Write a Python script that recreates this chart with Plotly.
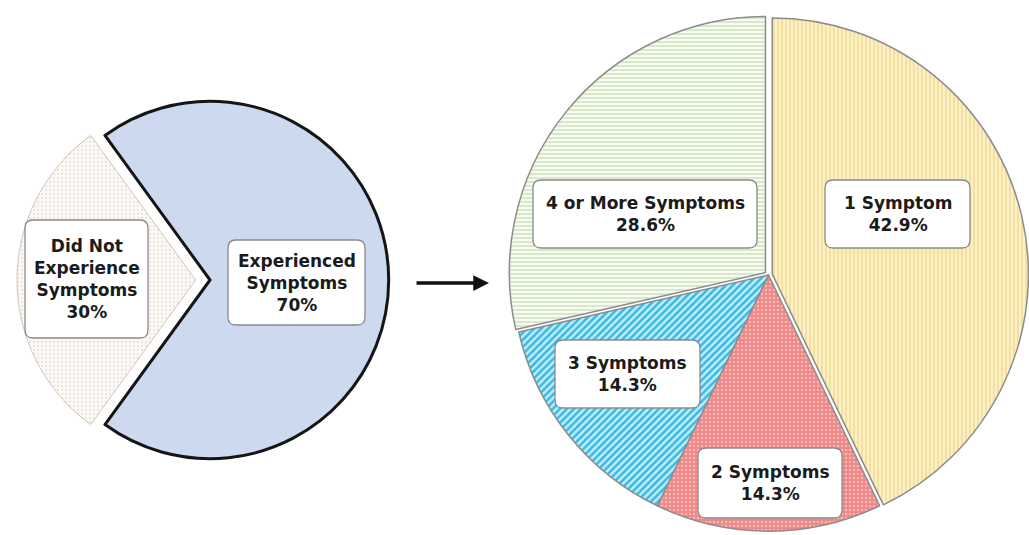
import plotly.graph_objects as go

# Overall split of respondents
overall_labels = ["Experienced<br>Symptoms", "Did Not<br>Experience<br>Symptoms"]
overall_values = [70, 30]

# Breakdown of those who experienced symptoms
count_labels = ["1 Symptom", "2 Symptoms", "3 Symptoms", "4 or More Symptoms"]
count_values = [42.9, 14.3, 14.3, 28.6]

W, H = 1029, 535
FONT = dict(family="DejaVu Sans", size=17, color="#1b1b1b", weight="bold")


def px(x, y):
    """Pixel position -> paper coordinates."""
    return x / W, 1 - y / H


def rounded_box(cx, cy, w, h, r=8):
    x0, x1 = cx - w / 2, cx + w / 2
    y0, y1 = cy - h / 2, cy + h / 2
    pts = [
        ("M", (x0 + r, y0)), ("L", (x1 - r, y0)), ("Q", (x1, y0), (x1, y0 + r)),
        ("L", (x1, y1 - r)), ("Q", (x1, y1), (x1 - r, y1)),
        ("L", (x0 + r, y1)), ("Q", (x0, y1), (x0, y1 - r)),
        ("L", (x0, y0 + r)), ("Q", (x0, y0), (x0 + r, y0)),
    ]
    parts = []
    for cmd, *coords in pts:
        s = " ".join("%.5f,%.5f" % px(*c) for c in coords)
        parts.append(cmd + s)
    return dict(type="path", xref="paper", yref="paper", path=" ".join(parts) + " Z",
                fillcolor="white", line=dict(color="#8a8a8a", width=1.3), layer="above")


fig = go.Figure()

fig.add_trace(go.Pie(
    labels=overall_labels, values=overall_values, sort=False, direction="clockwise",
    rotation=-36, pull=[0, 0.08], textinfo="none", hoverinfo="label+percent",
    domain=dict(x=[17 / W, 403 / W], y=[62 / H, 448 / H]),
    marker=dict(
        colors=["#cdd9ef", "#fbf8f5"],
        line=dict(color=["#151515", "#cfc6be"], width=[3, 1]),
        pattern=dict(shape=["", "."], fgcolor=["#cdd9ef", "#efe3db"],
                     bgcolor=["#cdd9ef", "#fcfaf7"], size=4, solidity=0.25),
    ),
    showlegend=False,
))

fig.add_trace(go.Pie(
    labels=count_labels, values=count_values, sort=False, direction="clockwise",
    rotation=0, pull=[0.015, 0, 0, 0.015], textinfo="none", hoverinfo="label+percent",
    domain=dict(x=[508 / W, 1.0], y=[0.0, 520 / H]),
    marker=dict(
        colors=["#fdf0c2", "#f08c8c", "#bfeaf8", "#f7fbf3"],
        line=dict(color="#8c8c8c", width=1.5),
        pattern=dict(shape=["|", ".", "/", "-"],
                     fgcolor=["#f3dc9c", "#f8b6b6", "#35bae4", "#d4e7c4"],
                     bgcolor=["#fdf0c2", "#ef8686", "#c4ecf9", "#f7fbf3"],
                     size=[4, 4, 5, 4], solidity=[0.4, 0.35, 0.5, 0.45]),
    ),
    showlegend=False,
))

# Label boxes: centre (px), width, height
overall_boxes = [(296.5, 282.5, 137, 85), (86.5, 279, 123, 118)]
count_boxes = [(897.5, 214, 145, 68), (770, 483, 144, 70),
               (627.5, 374, 145, 68), (645, 214, 224, 68)]

shapes, annotations = [], []
for names, vals, boxes, fmt in [
    (overall_labels, overall_values, overall_boxes, "{:g}%"),
    (count_labels, count_values, count_boxes, "{:.1f}%"),
]:
    for name, v, (cx, cy, w, h) in zip(names, vals, boxes):
        shapes.append(rounded_box(cx, cy, w, h))
        x, y = px(cx, cy)
        annotations.append(dict(x=x, y=y, xref="paper", yref="paper",
                                xanchor="center", yanchor="middle",
                                text=f"{name}<br>{fmt.format(v)}", showarrow=False,
                                font=FONT, align="center"))

# Arrow linking the two pies
ax0, ay0 = px(489, 283)
annotations.append(dict(x=ax0, y=ay0, xref="paper", yref="paper", ax=-74, ay=0,
                        showarrow=True, arrowhead=2, arrowsize=0.9, arrowwidth=3.5,
                        arrowcolor="#111111", text=""))

fig.update_layout(
    width=W, height=H, margin=dict(l=0, r=0, t=0, b=0),
    paper_bgcolor="white", plot_bgcolor="white",
    shapes=shapes, annotations=annotations,
)

fig.write_html("out.html")
